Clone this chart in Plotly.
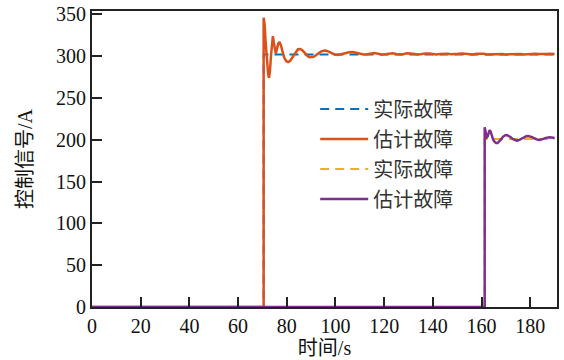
import plotly.graph_objects as go

# actual fault 1 (blue dashed)
t_act1 = [0, 70.5, 70.5, 190]
v_act1 = [0, 0, 302, 302]

# estimated fault 1 (orange)
t_est1 = [0, 70.5, 70.5, 70.9, 71.3, 71.8, 72.3, 72.7, 73.1, 73.5, 73.9, 74.3, 74.7, 75.1,
          75.5, 76.0, 76.5, 77.0, 77.6, 78.3, 79.0, 79.8, 80.6, 81.4, 82.2, 83.0, 83.8,
          84.6, 85.4, 86.2, 87.0, 87.8, 88.6, 89.4, 90.2, 91.0, 92.0, 93.0, 94.0, 95.0,
          96.0, 97.2, 98.4, 99.6, 101.0, 102.5, 104.0, 105.5, 107.0, 108.5, 110.0, 111.5,
          113.0, 114.5, 116.0, 117.5, 119.0, 120.5, 122.0, 123.5, 125.0, 126.5, 128.0,
          129.5, 131.0, 132.5, 134.0, 135.5, 137.0, 138.5, 140.0, 141.5, 143.0, 144.5,
          146.0, 147.5, 149.0, 150.5, 152.0, 153.5, 155.0, 156.5, 158.0, 159.5, 161.0,
          162.5, 164.0, 165.5, 167.0, 168.5, 170.0, 171.5, 173.0, 174.5, 176.0, 177.5,
          179.0, 180.5, 182.0, 183.5, 185.0, 186.5, 188.0, 189.5, 190.0]
v_est1 = [0, 0, 346, 338, 318, 295, 280, 274, 282, 300, 318, 324, 316, 306,
          303, 309, 315, 317, 313, 305, 298, 294, 293, 294.5, 298, 302, 306,
          308.3, 308.6, 307.5, 305, 302, 300, 298.8, 298.6, 299.3, 301, 303.5, 305.5, 306.5,
          306.6, 305.5, 303.5, 302, 301.4, 302, 303.5, 304.6, 305, 304, 302.6, 302,
          302.4, 303.4, 303.6, 302.8, 302, 302.3, 303.3, 303.4, 302.5, 302, 302.6,
          303.4, 303.2, 302.3, 302, 302.6, 303.3, 303.1, 302.2, 302, 302.7, 303.3,
          303, 302.2, 302.1, 302.8, 303.3, 302.9, 302.2, 302.1, 302.8, 303.2, 302.8,
          302.1, 302.2, 302.9, 303.2, 302.7, 302.1, 302.3, 303, 303.1, 302.6, 302.1,
          302.4, 303, 303, 302.5, 302.1, 302.5, 303, 302.9, 302.7]

# actual fault 2 (yellow dashed)
t_act2 = [0, 161.3, 161.3, 190]
v_act2 = [0, 0, 201, 201]

# estimated fault 2 (purple)
t_est2 = [0, 161.3, 161.3, 161.7, 162.1, 162.5, 162.9, 163.3, 163.7, 164.2, 164.8, 165.4,
          166.0, 166.6, 167.2, 168.0, 168.8, 169.6, 170.4, 171.2, 172.0, 172.8, 173.6,
          174.4, 175.2, 176.0, 176.8, 177.6, 178.4, 179.2, 180.0, 180.8, 181.6, 182.4,
          183.2, 184.0, 184.8, 185.6, 186.4, 187.2, 188.0, 188.8, 189.6, 190.0]
v_est2 = [0, 0, 215, 208, 203, 204, 209, 211.5, 210, 205, 200, 197.5,
          196, 196, 197.5, 200.5, 203.5, 205.3, 205.7, 204.8, 203, 201, 199.6,
          199, 199.3, 200.5, 202, 203.3, 204.2, 204.5, 204.2, 203.2, 201.8, 200.5,
          199.9, 199.8, 200.3, 201.3, 202.3, 202.9, 203, 202.8, 202.4, 202.2]

x_ticks = [0, 20, 40, 60, 80, 100, 120, 140, 160, 180]
y_ticks = [0, 50, 100, 150, 200, 250, 300, 350]

legend_names = ["实际故障", "估计故障", "实际故障", "估计故障"]

fig = go.Figure()
fig.add_trace(go.Scatter(x=t_act1, y=v_act1, mode="lines", name=legend_names[0],
                         line=dict(color="#0072BD", width=2, dash="9px,6px"), legendgroup="a"))
fig.add_trace(go.Scatter(x=t_est1, y=v_est1, mode="lines", name=legend_names[1],
                         line=dict(color="#D95319", width=2.5), legendgroup="b"))
fig.add_trace(go.Scatter(x=t_act2, y=v_act2, mode="lines", name=legend_names[2],
                         line=dict(color="#EDB120", width=2, dash="9px,6px"), legendgroup="c"))
fig.add_trace(go.Scatter(x=t_est2, y=v_est2, mode="lines", name=legend_names[3],
                         line=dict(color="#7E2F8E", width=2.5), legendgroup="d"))

axis_font = dict(family="Liberation Serif, Noto Sans CJK SC", size=20, color="#111")

fig.update_layout(
    width=564, height=360,
    margin=dict(l=92, r=7, t=11, b=53),
    plot_bgcolor="white", paper_bgcolor="white",
    font=axis_font,
    showlegend=True,
    legend=dict(x=0.48, y=0.735, xanchor="left", yanchor="top",
                bgcolor="rgba(0,0,0,0)", borderwidth=0,
                font=dict(family="Noto Sans CJK SC", size=20, color="#333"),
                traceorder="grouped", tracegroupgap=1, itemwidth=48),
    xaxis=dict(range=[0, 191], tickvals=x_ticks, ticks="inside", ticklen=10, tickwidth=2,
               tickcolor="#222", showline=True, linewidth=2, linecolor="#222", mirror=True,
               showgrid=False, zeroline=False, automargin=False,
               title=dict(text="时间/s", font=axis_font, standoff=4)),
    yaxis=dict(range=[0, 354], tickvals=y_ticks, ticks="inside", ticklen=10, tickwidth=2,
               tickcolor="#222", showline=True, linewidth=2, linecolor="#222", mirror=True,
               showgrid=False, zeroline=False, automargin=False,
               title=dict(text="控制信号/A", font=axis_font, standoff=18)),
)

fig.write_html("out.html")
